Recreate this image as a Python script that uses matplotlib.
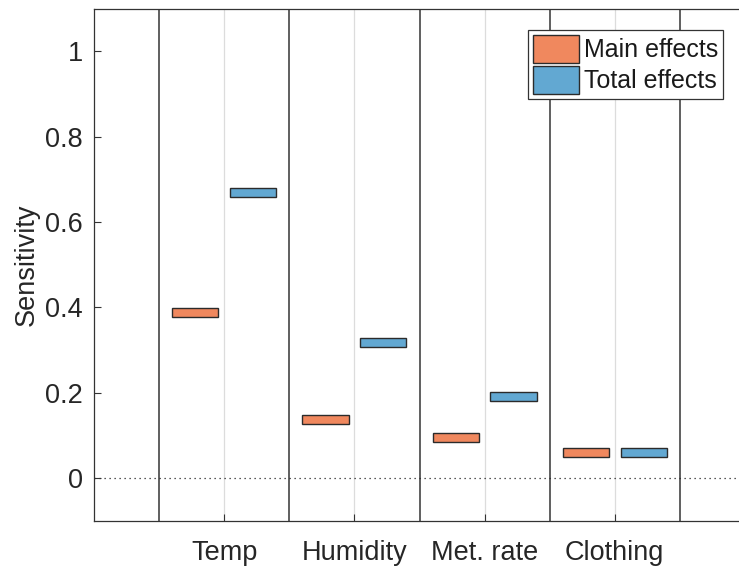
import matplotlib
matplotlib.use("Agg")
import matplotlib.pyplot as plt
import numpy as np

# sensitivity indices
factors = ["Temp", "Humidity", "Met. rate", "Clothing"]
main_effects = [0.389, 0.138, 0.096, 0.060]
total_effects = [0.670, 0.319, 0.192, 0.060]
yticks = [0, 0.2, 0.4, 0.6, 0.8, 1]

plt.rcParams["font.family"] = ["Liberation Sans", "DejaVu Sans"]

W, H = 739, 570
fig = plt.figure(figsize=(W / 100, H / 100), dpi=100)
# axes runs slightly past the right edge, as in the original
ax = fig.add_axes([94 / W, 49 / H, 651 / W, 512.5 / H])

x = np.arange(1, len(factors) + 1)
offset = 0.222
box_w = 0.355
box_h = 0.021

main_color = "#F0885E"
total_color = "#62A8D2"
edge = "#2b2b2b"

# group separators and centre lines
for b in np.arange(0.5, len(factors) + 1, 1.0):
    ax.axvline(b, color="#444444", lw=1.2, zorder=1)
for c in x:
    ax.axvline(c, color="#dcdcdc", lw=0.9, zorder=0)
ax.axhline(0, color="#222222", lw=0.9, ls=(0, (1, 3)), zorder=1)

ax.bar(x - offset, box_h, width=box_w, bottom=np.array(main_effects) - box_h / 2,
       color=main_color, edgecolor=edge, linewidth=1.0, label="Main effects", zorder=3)
ax.bar(x + offset, box_h, width=box_w, bottom=np.array(total_effects) - box_h / 2,
       color=total_color, edgecolor=edge, linewidth=1.0, label="Total effects", zorder=3)

ax.set_xlim(0, 5)
ax.set_ylim(-0.1, 1.1)
ax.set_xticks(x)
ax.set_xticklabels(factors)
ax.set_yticks(yticks)
ax.set_yticklabels([f"{v:g}" for v in yticks])
ax.tick_params(direction="in", length=5, width=0.8, color="#333333",
               labelsize=19.5, labelcolor="#262626")
ax.tick_params(axis="x", pad=14)
ax.tick_params(axis="y", pad=8)
for s in ax.spines.values():
    s.set_color("#333333")
    s.set_linewidth(0.9)

ax.set_ylabel("Sensitivity", fontsize=19.5, color="#262626", labelpad=4)

leg = ax.legend(loc="upper right", bbox_to_anchor=(723 / W, 1 - 30 / H),
                bbox_transform=fig.transFigure, fontsize=18, fancybox=False,
                framealpha=1, edgecolor="#333333", handlelength=1.85,
                handleheight=1.35, handletextpad=0.2, borderpad=0.2,
                labelspacing=0.12, borderaxespad=0)
leg.get_frame().set_linewidth(0.9)
for t in leg.get_texts():
    t.set_color("#1a1a1a")

fig.savefig("out.png", dpi=100)
